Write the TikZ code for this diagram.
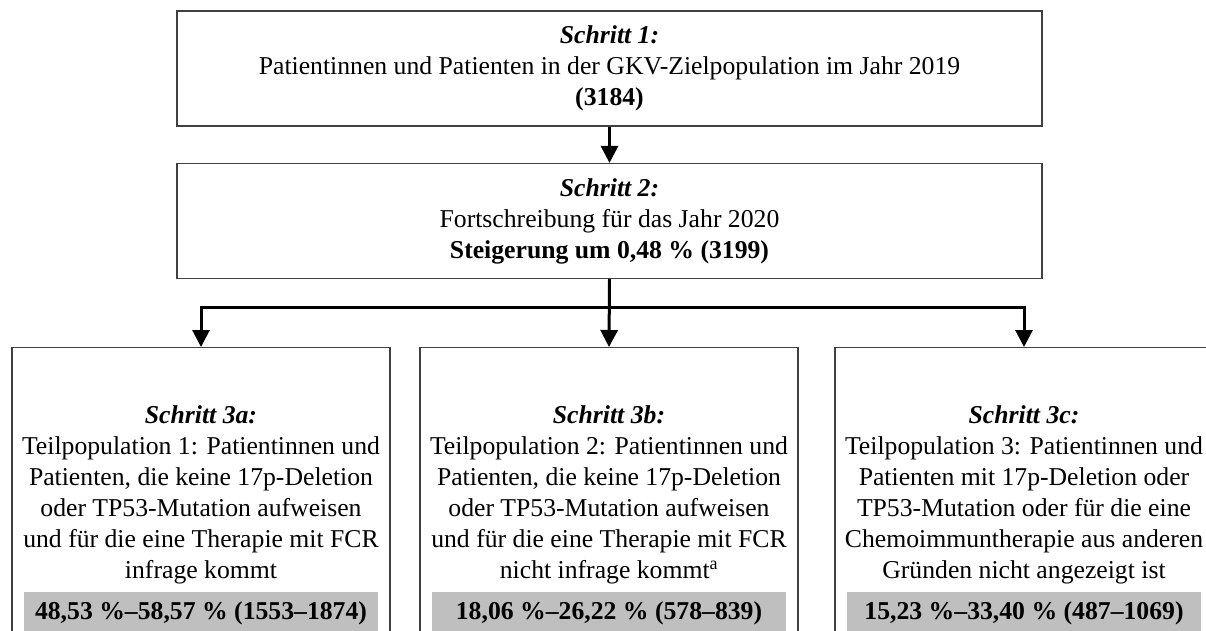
\documentclass[tikz,border=0pt]{standalone}
\usepackage{fontspec}
\setmainfont{Liberation Serif}
\usetikzlibrary{arrows.meta,positioning}
\begin{document}
\begin{tikzpicture}[x=1pt,y=-1pt,
    font=\fontsize{25.7}{31}\selectfont,
    stepbox/.style={draw=black!75,line width=1.2pt,minimum width=865pt,minimum height=115pt,align=center,inner sep=0pt},
    subbox/.style={draw=black!75,line width=1.2pt,minimum width=378pt,minimum height=320pt,anchor=north,inner sep=0pt},
    subtext/.style={align=center,inner sep=0pt},
    countbar/.style={fill=black!25,minimum width=354pt,minimum height=42pt,anchor=north,inner sep=0pt,font=\fontsize{25.7}{31}\selectfont\bfseries},
    flow/.style={line width=3pt,-{Triangle[length=17pt,width=17pt]}}]
  \useasboundingbox (0,0) rectangle (1206,630);
  \clip (0,0) rectangle (1206,630);

  \node [stepbox] (s1) at (609.5,68.5)
    {\textbf{\textit{Schritt 1:}}\\
     Patientinnen und Patienten in der GKV-Zielpopulation im Jahr 2019\\
     \textbf{(3184)}};
  \node [stepbox] (s2) at (609.5,221)
    {\textbf{\textit{Schritt 2:}}\\
     Fortschreibung für das Jahr 2020\\
     \textbf{Steigerung um 0,48 \% (3199)}};

  \node [subbox] (s3a) at (201,347) {};
  \node [subbox] (s3b) at (609,347) {};
  \node [subbox] (s3c) at (1024,347) {};

  \node [subtext] (t3a) at (201,495)
    {\textbf{\textit{Schritt 3a:}}\\
     Teilpopulation 1: Patientinnen und\\
     Patienten, die keine 17p-Deletion\\
     oder TP53-Mutation aufweisen\\
     und für die eine Therapie mit FCR\\
     infrage kommt};
  \node [subtext] (t3b) at (609,495)
    {\textbf{\textit{Schritt 3b:}}\\
     Teilpopulation 2: Patientinnen und\\
     Patienten, die keine 17p-Deletion\\
     oder TP53-Mutation aufweisen\\
     und für die eine Therapie mit FCR\\
     nicht infrage kommt\textsuperscript{a}};
  \node [subtext] (t3c) at (1024,495)
    {\textbf{\textit{Schritt 3c:}}\\
     Teilpopulation 3: Patientinnen und\\
     Patienten mit 17p-Deletion oder\\
     TP53-Mutation oder für die eine\\
     Chemoimmuntherapie aus anderen\\
     Gründen nicht angezeigt ist};

  \node [countbar] (n3a) at (201,592) {48,53 \%--58,57 \% (1553--1874)};
  \node [countbar] (n3b) at (609,592) {18,06 \%--26,22 \% (578--839)};
  \node [countbar] (n3c) at (1024,592) {15,23 \%--33,40 \% (487--1069)};

  \draw [flow] (s1) -- (s2);
  \draw [flow] (s2.south) -- (s3b.north);
  \draw [flow] (s2.south) -- ++(0,28) -| (s3a.north);
  \draw [flow] (s2.south) -- ++(0,28) -| (s3c.north);
\end{tikzpicture}
\end{document}
